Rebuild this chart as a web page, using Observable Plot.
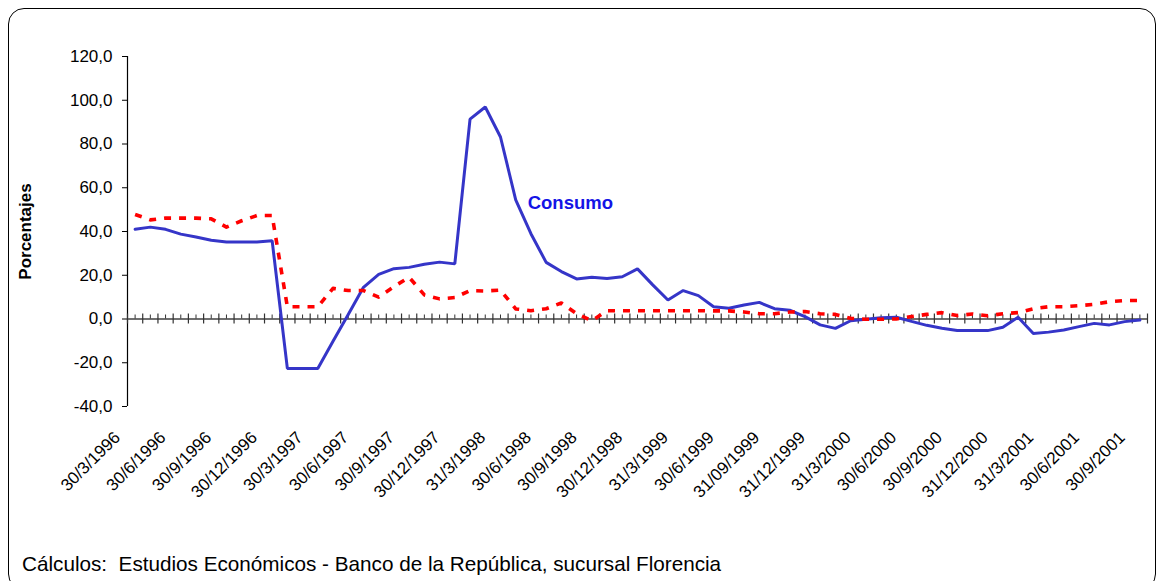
<!DOCTYPE html>
<html>
<head>
<meta charset="utf-8">
<script src="https://cdn.jsdelivr.net/npm/d3@7"></script>
<script src="https://cdn.jsdelivr.net/npm/@observablehq/plot@0.6"></script>
<style>
  html, body { margin: 0; padding: 0; background: #fff; width: 1159px; height: 581px; overflow: hidden; }
  #wrap { position: relative; width: 1159px; height: 581px; font-family: "Liberation Sans", Arial, sans-serif; }
  #frame { position: absolute; left: 8px; top: 8px; width: 1148px; height: 582px; border: 1.5px solid #000; border-radius: 16px; box-sizing: border-box; }
  #chart { position: absolute; left: 0; top: 0; }
  #caption { position: absolute; left: 22px; top: 552px; font-size: 20.7px; color: #000; white-space: pre; }
</style>
</head>
<body>
<div id="wrap">
  <div id="frame"></div>
  <div id="chart"></div>
  <div id="caption"></div>
</div>
<script>
// Quarterly tick labels (every 3rd monthly category)
const tickLabels = ["30/3/1996","30/6/1996","30/9/1996","30/12/1996","30/3/1997","30/6/1997","30/9/1997","30/12/1997","31/3/1998","30/6/1998","30/9/1998","30/12/1998","31/3/1999","30/6/1999","31/09/1999","31/12/1999","31/3/2000","30/6/2000","30/9/2000","31/12/2000","31/3/2001","30/6/2001","30/9/2001"];

// Monthly values, March 1996 – September 2001 (67 months)
const consumo = [41.0, 42.0, 41.0, 38.8, 37.5, 36.0, 35.2, 35.2, 35.2, 35.8,
  -22.6, -22.6, -22.6, -10.2, 2.1, 14.5, 20.4, 23.0, 23.6, 25.0,
  26.0, 25.2, 91.4, 96.9, 83.2, 54.5, 39.0, 25.9, 21.7, 18.3,
  19.1, 18.5, 19.3, 22.9, 15.6, 8.7, 13.0, 10.7, 5.6, 4.9,
  6.4, 7.6, 4.7, 4.0, 1.1, -2.7, -4.3, -0.8, -0.1, 0.6,
  0.8, -1.1, -2.9, -4.2, -5.3, -5.3, -5.3, -3.8, 0.8, -6.6,
  -6.0, -5.0, -3.5, -2.0, -2.7, -1.2, -0.5];

const segundaSerie = [47.8, 45.3, 46.1, 46.1, 46.1, 45.8, 42.0, 44.9, 47.3, 47.3,
  5.6, 5.6, 5.6, 14.0, 13.0, 13.0, 10.0, 14.8, 19.1, 11.0,
  9.2, 9.8, 13.0, 12.8, 13.2, 4.6, 3.8, 4.7, 7.3, 2.4,
  -0.8, 3.8, 3.8, 3.8, 3.8, 3.8, 3.8, 3.8, 3.7, 3.7,
  3.2, 2.4, 2.4, 3.2, 3.4, 2.4, 2.1, 0.3, -0.1, -0.1,
  0.0, 1.1, 2.1, 2.9, 1.6, 2.3, 1.5, 2.4, 2.9, 4.7,
  5.6, 5.6, 6.1, 6.7, 7.9, 8.4, 8.5];

const yTicks = [-40, -20, 0, 20, 40, 60, 80, 100, 120];
const yTitle = "Porcentajes";
const seriesLabel = "Consumo";
const captionText = "Cálculos:  Estudios Económicos - Banco de la República, sucursal Florencia";

const W = 1159, H = 581;
const mTop = 56, mBottom = 175, mLeft = 127, mRight = 12;
const n = consumo.length;
const unitsPerPx = (yTicks[yTicks.length - 1] - yTicks[0]) / (H - mTop - mBottom);
const fmt = v => v.toFixed(1).replace(".", ",");

const boundaries = d3.range(n + 1).map(k => k - 0.5);
const centers = d3.range(n);

const chart = Plot.plot({
  width: W,
  height: H,
  marginTop: mTop,
  marginBottom: mBottom,
  marginLeft: mLeft,
  marginRight: mRight,
  style: { fontFamily: "'Liberation Sans', Arial, sans-serif", background: "transparent", overflow: "visible" },
  x: { type: "linear", domain: [-0.5, n - 0.5], axis: null },
  y: { domain: [yTicks[0], yTicks[yTicks.length - 1]], axis: null },
  marks: [
    // y axis
    Plot.ruleX([-0.5], { y1: yTicks[0], y2: yTicks[yTicks.length - 1], stroke: "#000", strokeWidth: 1.2 }),
    Plot.axisY({ ticks: yTicks, tickFormat: fmt, tickSize: 5, tickPadding: 10, fontSize: 17, label: null }),
    // x axis line at zero
    Plot.ruleY([0], { stroke: "#707070", strokeWidth: 2 }),
    Plot.ruleX(boundaries, { x: d => d, y1: -5 * unitsPerPx, y2: 5 * unitsPerPx, stroke: "#333", strokeWidth: 1.2 }),
    Plot.ruleX(centers, { x: d => d, y1: 0, y2: 4 * unitsPerPx, stroke: "#333", strokeWidth: 1 }),
    // x tick labels
    Plot.text(tickLabels, { x: (d, i) => i * 3, frameAnchor: "bottom", text: d => d, rotate: -45, textAnchor: "end", dx: -14, dy: 32, fontSize: 17, fill: "#000" }),
    // y title
    Plot.text([yTitle], { frameAnchor: "left", text: d => d, rotate: -90, textAnchor: "middle", dx: -102, fontSize: 17, fontWeight: "bold", fill: "#000" }),
    // series
    Plot.line(consumo, { x: (d, i) => i, y: d => d, stroke: "#3535c8", strokeWidth: 3, strokeLinejoin: "miter" }),
    Plot.line(segundaSerie, { x: (d, i) => i, y: d => d, stroke: "#ff0000", strokeWidth: 3.6, strokeDasharray: "7,8", strokeLinecap: "butt" }),
    // series label anchored to a data point
    Plot.text(consumo, { filter: (d, i) => i === 25, x: (d, i) => i, y: d => d, text: () => seriesLabel, textAnchor: "start", dx: 12, dy: 3, fontSize: 18.5, fontWeight: "bold", fill: "#1414e6" })
  ]
});
document.getElementById("chart").appendChild(chart);
document.getElementById("caption").textContent = captionText;
</script>
</body>
</html>
